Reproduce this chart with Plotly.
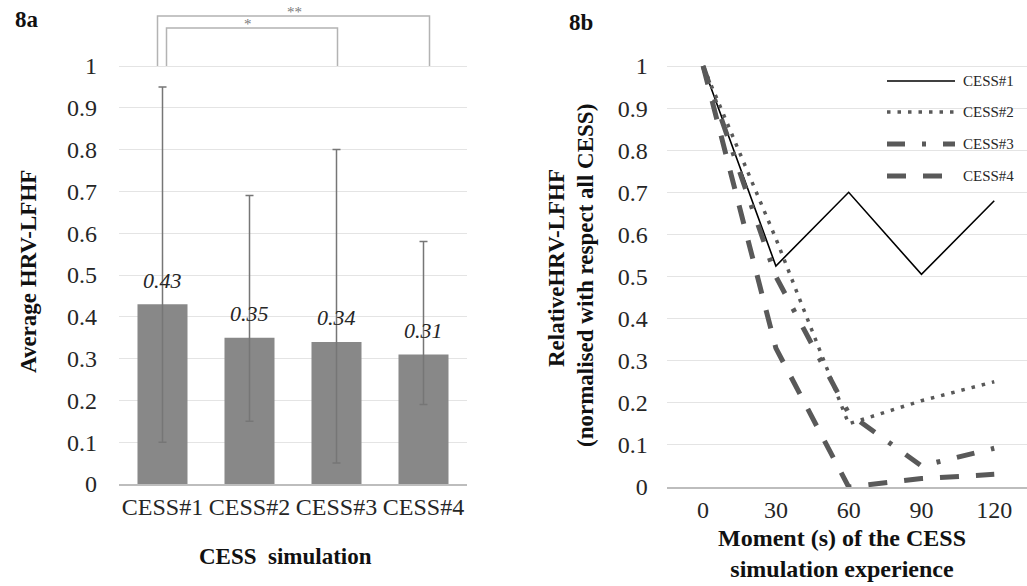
import plotly.graph_objects as go

W, H = 1027, 586

# ---------------- data ----------------
sims = ["CESS#1", "CESS#2", "CESS#3", "CESS#4"]
avg_lfhf = [0.43, 0.35, 0.34, 0.31]
err_high = [0.95, 0.69, 0.80, 0.58]
err_low = [0.10, 0.15, 0.05, 0.19]

moments = ["0", "30", "60", "90", "120"]
rel_c1 = [1.0, 0.525, 0.70, 0.505, 0.68]
rel_c2 = [1.0, 0.59, 0.15, 0.205, 0.25]
rel_c3 = [1.0, 0.50, 0.175, 0.05, 0.092]
rel_c4 = [1.0, 0.33, 0.0, 0.02, 0.03]
series_names = ["CESS#1", "CESS#2", "CESS#3", "CESS#4"]

y_tickvals = [0, 0.1, 0.2, 0.3, 0.4, 0.5, 0.6, 0.7, 0.8, 0.9, 1]
y_ticktext = ["0", "0.1", "0.2", "0.3", "0.4", "0.5", "0.6", "0.7", "0.8", "0.9", "1"]

# ---------------- style ----------------
SERIF = "Liberation Serif"
TXT = "#262626"
GRID = "#e4e4e4"
AXIS = "#bdbdbd"
DARK = "#595959"


def px(p):
    return p / W


def py(p):
    return 1 - p / H


fig = go.Figure()

# ---------- 8a: bars ----------
fig.add_trace(go.Bar(
    x=sims, y=avg_lfhf, xaxis="x", yaxis="y",
    width=0.575,
    marker=dict(color="#888888", line=dict(width=0)),
    error_y=dict(type="data", symmetric=False,
                 array=[h - v for h, v in zip(err_high, avg_lfhf)],
                 arrayminus=[v - l for v, l in zip(avg_lfhf, err_low)],
                 color="#767676", thickness=1.5, width=4),
    showlegend=False, hoverinfo="skip",
))

# ---------- 8b: lines ----------
line_styles = [
    dict(color="#000000", width=1.6, dash="solid"),
    dict(color=DARK, width=3.5, dash="3.5px,7px"),
    dict(color=DARK, width=5, dash="18px,17px,4px,17px"),
    dict(color=DARK, width=5, dash="19px,17px"),
]
for name, ys, st in zip(series_names, [rel_c1, rel_c2, rel_c3, rel_c4], line_styles):
    fig.add_trace(go.Scatter(
        x=moments, y=ys, xaxis="x2", yaxis="y2", mode="lines", name=name,
        line=st, showlegend=False, hoverinfo="skip",
    ))

tickfont = dict(family=SERIF, size=24, color=TXT)

fig.update_layout(
    width=W, height=H,
    margin=dict(l=0, r=0, t=0, b=0, autoexpand=False),
    paper_bgcolor="white", plot_bgcolor="white",
    xaxis=dict(domain=[px(119), px(467)], type="category", range=[-0.5, 3.5],
               showline=True, linecolor=AXIS, linewidth=1.5, showgrid=False,
               ticks="", tickfont=tickfont, anchor="y", ticklabelstandoff=0),
    yaxis=dict(domain=[py(484), py(484 - 1.14 * 418)], range=[0, 1.14],
               tickvals=y_tickvals, ticktext=y_ticktext, showgrid=True,
               gridcolor=GRID, gridwidth=1, zeroline=False, showline=False,
               ticks="", tickfont=tickfont, anchor="x", ticklabelstandoff=21),
    xaxis2=dict(domain=[px(666.7), 1.0], type="category", range=[-0.5, 4.45],
                showline=True, linecolor=AXIS, linewidth=1.5, showgrid=False,
                ticks="", tickfont=tickfont, anchor="y2", ticklabelstandoff=0),
    yaxis2=dict(domain=[py(487), py(487 - 1.03 * 421)], range=[0, 1.03],
                tickvals=y_tickvals, ticktext=y_ticktext, showgrid=True,
                gridcolor=GRID, gridwidth=1, zeroline=False, showline=False,
                ticks="", tickfont=tickfont, anchor="x2", ticklabelstandoff=18),
    bargap=0.4,
)

annotations = []
shapes = []

# data labels
for s, v in zip(sims, avg_lfhf):
    annotations.append(dict(x=s, y=v, xref="x", yref="y", text=f"<i>{v:.2f}</i>",
                            showarrow=False, yshift=24, xanchor="center", yanchor="middle",
                            font=dict(family=SERIF, size=22, color=TXT)))

# significance brackets
BR = "#b3b3b3"
for x0, x1, ytop, star, sx in [(-0.0575, 3.069, 1.1196, "**", 1.517),
                                (0.046, 2.0115, 1.0909, "*", 0.977)]:
    path = f"M {x0},1 L {x0},{ytop} L {x1},{ytop} L {x1},1"
    shapes.append(dict(type="path", path=path, xref="x", yref="y",
                       line=dict(color=BR, width=1.5)))
    annotations.append(dict(x=sx, y=ytop, xref="x", yref="y", text=star,
                            showarrow=False, xanchor="center", yanchor="bottom", yshift=-6,
                            font=dict(family=SERIF, size=15, color="#7a7a7a")))

# manual legend for 8b
leg_y = [81, 112, 144, 176]
for name, st, yy in zip(series_names, line_styles, leg_y):
    shapes.append(dict(type="line", xref="paper", yref="paper",
                       x0=px(887), x1=px(955), y0=py(yy), y1=py(yy),
                       line=st))
    annotations.append(dict(x=px(961), y=py(yy), xref="paper", yref="paper",
                            text=name, showarrow=False, xanchor="left", yanchor="middle",
                            font=dict(family=SERIF, size=15, color=TXT)))

bold = dict(family=SERIF, size=23, color="#111111")
bold24 = dict(family=SERIF, size=24, color="#111111")
# panel labels
annotations.append(dict(x=px(13), y=py(20), xref="paper", yref="paper", text="<b>8a</b>",
                        showarrow=False, xanchor="left", yanchor="middle", font=bold))
annotations.append(dict(x=px(567), y=py(22), xref="paper", yref="paper", text="<b>8b</b>",
                        showarrow=False, xanchor="left", yanchor="middle", font=bold))
# axis titles
annotations.append(dict(x=px(28), y=py(272), xref="paper", yref="paper",
                        text="<b>Average HRV-LFHF</b>", textangle=-90,
                        xanchor="center", yanchor="middle",
                        showarrow=False, font=bold))
annotations.append(dict(x=px(285), y=py(556), xref="paper", yref="paper",
                        text="<b>CESS  simulation</b>",
                        xanchor="center", yanchor="middle",
                        showarrow=False, font=bold))
annotations.append(dict(x=px(557), y=py(268), xref="paper", yref="paper",
                        text="<b>RelativeHRV-LFHF</b>", textangle=-90,
                        xanchor="center", yanchor="middle",
                        showarrow=False, font=bold))
annotations.append(dict(x=px(585), y=py(276), xref="paper", yref="paper",
                        text="<b>(normalised with respect all CESS)</b>", textangle=-90,
                        xanchor="center", yanchor="middle",
                        showarrow=False, font=bold))
annotations.append(dict(x=px(842), y=py(553), xref="paper", yref="paper",
                        text="<b>Moment (s) of the CESS<br>simulation experience</b>",
                        xanchor="center", yanchor="middle",
                        showarrow=False, font=bold24))

fig.update_layout(annotations=annotations, shapes=shapes)

fig.write_html("out.html")
